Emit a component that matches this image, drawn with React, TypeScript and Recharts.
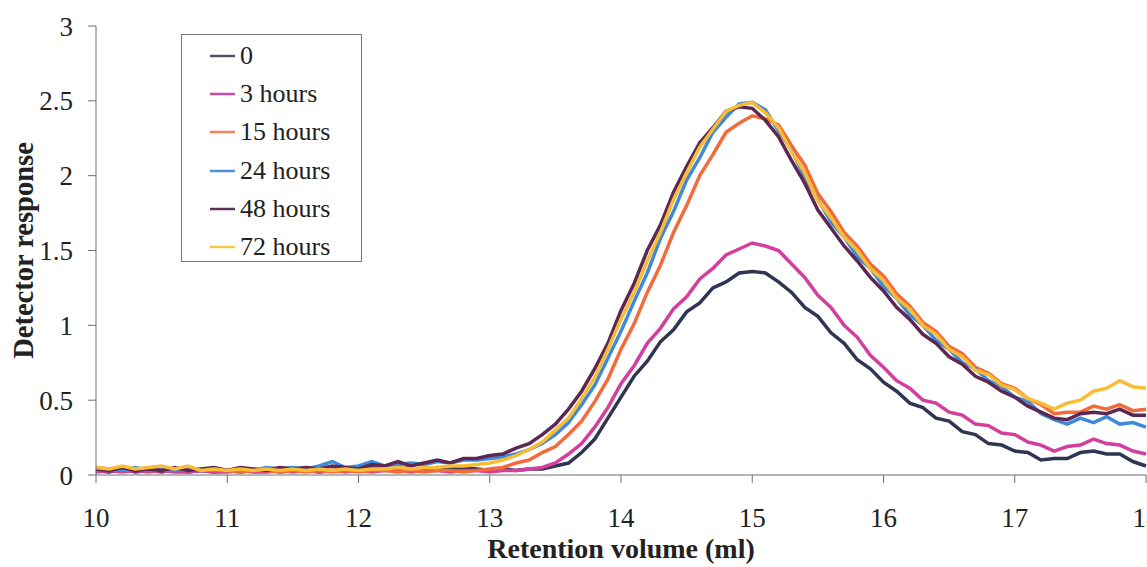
import { Legend, Line, LineChart, XAxis, YAxis } from "recharts";

// retention volume, ml
const retentionVolume = [
  10.0, 10.1, 10.2, 10.3, 10.4, 10.5, 10.6, 10.7, 10.8, 10.9,
  11.0, 11.1, 11.2, 11.3, 11.4, 11.5, 11.6, 11.7, 11.8, 11.9,
  12.0, 12.1, 12.2, 12.3, 12.4, 12.5, 12.6, 12.7, 12.8, 12.9,
  13.0, 13.1, 13.2, 13.3, 13.4, 13.5, 13.6, 13.7, 13.8, 13.9,
  14.0, 14.1, 14.2, 14.3, 14.4, 14.5, 14.6, 14.7, 14.8, 14.9,
  15.0, 15.1, 15.2, 15.3, 15.4, 15.5, 15.6, 15.7, 15.8, 15.9,
  16.0, 16.1, 16.2, 16.3, 16.4, 16.5, 16.6, 16.7, 16.8, 16.9,
  17.0, 17.1, 17.2, 17.3, 17.4, 17.5, 17.6, 17.7, 17.8, 17.9,
  18.0,
];

const h0 = [
  0.03, 0.02, 0.04, 0.02, 0.03, 0.02, 0.04, 0.02, 0.03, 0.02,
  0.03, 0.02, 0.03, 0.04, 0.02, 0.03, 0.04, 0.02, 0.03, 0.04,
  0.03, 0.05, 0.03, 0.04, 0.05, 0.03, 0.05, 0.04, 0.05, 0.04,
  0.03, 0.04, 0.03, 0.04, 0.04, 0.06, 0.08, 0.15, 0.24, 0.38,
  0.52, 0.66, 0.76, 0.89, 0.97, 1.09, 1.15, 1.25, 1.29, 1.35,
  1.36, 1.35, 1.29, 1.22, 1.12, 1.06, 0.95, 0.88, 0.77, 0.71,
  0.62, 0.56, 0.48, 0.45, 0.38, 0.36, 0.29, 0.27, 0.21, 0.2,
  0.16, 0.15, 0.1, 0.11, 0.11, 0.15, 0.16, 0.14, 0.14, 0.09,
  0.06,
];

const h3 = [
  0.02, 0.03, 0.02, 0.03, 0.02, 0.03, 0.02, 0.02, 0.03, 0.02,
  0.02, 0.03, 0.02, 0.02, 0.03, 0.02, 0.03, 0.02, 0.03, 0.02,
  0.03, 0.02, 0.03, 0.03, 0.02, 0.03, 0.03, 0.02, 0.03, 0.03,
  0.02, 0.03, 0.03, 0.04, 0.05, 0.08, 0.14, 0.21, 0.32, 0.45,
  0.61, 0.73, 0.88, 0.98, 1.11, 1.19, 1.31, 1.38, 1.47, 1.51,
  1.55, 1.53, 1.5, 1.41, 1.32, 1.2, 1.12, 1.0, 0.92, 0.8,
  0.72, 0.63, 0.58, 0.5, 0.48, 0.42, 0.4, 0.34, 0.33, 0.28,
  0.27, 0.22, 0.2, 0.16, 0.19, 0.2, 0.24, 0.21, 0.2, 0.16,
  0.14,
];

const h15 = [
  0.05, 0.04, 0.03, 0.04, 0.03, 0.03, 0.04, 0.03, 0.04, 0.03,
  0.03, 0.02, 0.03, 0.03, 0.02, 0.03, 0.02, 0.03, 0.02, 0.03,
  0.02, 0.03, 0.03, 0.02, 0.03, 0.02, 0.03, 0.03, 0.02, 0.03,
  0.04, 0.05, 0.08, 0.1, 0.15, 0.19, 0.27, 0.36, 0.49, 0.64,
  0.84, 1.01, 1.22, 1.4, 1.62, 1.8, 2.0, 2.14, 2.29, 2.35,
  2.4, 2.38, 2.34, 2.2, 2.07, 1.88, 1.76, 1.62, 1.53, 1.41,
  1.33, 1.21, 1.13, 1.02, 0.96, 0.86, 0.81, 0.72, 0.68, 0.61,
  0.58, 0.51, 0.47, 0.41, 0.42, 0.42, 0.46, 0.44, 0.47, 0.43,
  0.44,
];

const h24 = [
  0.03, 0.04, 0.03, 0.05, 0.03, 0.04, 0.03, 0.04, 0.03, 0.04,
  0.03, 0.04, 0.03, 0.05, 0.04, 0.05, 0.04, 0.06, 0.09, 0.05,
  0.06, 0.09, 0.06, 0.07, 0.08, 0.07, 0.09, 0.08, 0.1, 0.1,
  0.11, 0.12, 0.14, 0.17, 0.21, 0.27, 0.35, 0.47, 0.6, 0.78,
  0.96, 1.16, 1.35, 1.58, 1.76, 1.97, 2.12, 2.29, 2.39, 2.48,
  2.49, 2.44, 2.3, 2.17, 1.99, 1.84, 1.69, 1.59, 1.46, 1.38,
  1.26, 1.18, 1.07, 1.0, 0.9, 0.84, 0.75, 0.71, 0.63, 0.59,
  0.52, 0.49, 0.41, 0.37, 0.34, 0.38, 0.35, 0.39, 0.34, 0.35,
  0.32,
];

const h48 = [
  0.04, 0.03, 0.05, 0.03, 0.04, 0.03, 0.05, 0.03, 0.04, 0.05,
  0.03, 0.05, 0.04, 0.03, 0.05, 0.04, 0.05, 0.04, 0.06, 0.05,
  0.04, 0.07, 0.06, 0.09, 0.06, 0.08, 0.1, 0.08, 0.11, 0.11,
  0.13, 0.14, 0.18, 0.21, 0.27, 0.34, 0.44, 0.56, 0.71, 0.88,
  1.1, 1.28, 1.5, 1.67, 1.89, 2.06, 2.22, 2.32, 2.43, 2.46,
  2.45, 2.37, 2.26, 2.1, 1.95, 1.77, 1.65, 1.53, 1.43, 1.32,
  1.23, 1.12, 1.04, 0.94, 0.88, 0.79, 0.74, 0.66, 0.62, 0.56,
  0.52, 0.46, 0.42, 0.38, 0.37, 0.41, 0.42, 0.41, 0.44, 0.4,
  0.4,
];

const h72 = [
  0.05, 0.04, 0.06, 0.04, 0.05, 0.06, 0.04, 0.06, 0.03, 0.04,
  0.03, 0.04, 0.03, 0.04, 0.03, 0.04, 0.03, 0.04, 0.03, 0.04,
  0.03, 0.04, 0.04, 0.05, 0.04, 0.05, 0.05, 0.06, 0.06, 0.07,
  0.08, 0.1, 0.13, 0.17, 0.22, 0.3, 0.38, 0.51, 0.65, 0.84,
  1.04, 1.22, 1.43, 1.62, 1.84, 2.02, 2.19, 2.31, 2.43, 2.47,
  2.49, 2.42, 2.32, 2.16, 2.02, 1.83, 1.72, 1.59, 1.5, 1.38,
  1.3, 1.18, 1.11, 1.0, 0.94, 0.84, 0.79, 0.7, 0.67, 0.6,
  0.57, 0.51, 0.48, 0.44, 0.48, 0.5, 0.56, 0.58, 0.63, 0.59,
  0.58,
];

const xTicks = [10, 11, 12, 13, 14, 15, 16, 17, 18];
const yTicks = [0, 0.5, 1, 1.5, 2, 2.5, 3];

const series = [
  { key: "h0", name: "0", values: h0, color: "#2f3652", legendColor: "#4b5569" },
  { key: "h3", name: "3 hours", values: h3, color: "#d23f9c", legendColor: "#cf4ba8" },
  { key: "h15", name: "15 hours", values: h15, color: "#f46b3b", legendColor: "#ef8259" },
  { key: "h24", name: "24 hours", values: h24, color: "#3f8ad8", legendColor: "#4f90d6" },
  { key: "h48", name: "48 hours", values: h48, color: "#5c2753", legendColor: "#5c3156" },
  { key: "h72", name: "72 hours", values: h72, color: "#f8bd35", legendColor: "#f4c94a" },
];

const data = retentionVolume.map((x, i) => {
  const row: Record<string, number> = { x };
  series.forEach((s) => {
    row[s.key] = s.values[i];
  });
  return row;
});

const FONT = '"Liberation Serif", "Times New Roman", serif';

function ChartLegend() {
  return (
    <div
      style={{
        width: 181,
        height: 228,
        border: "1px solid #777",
        background: "#fff",
        boxSizing: "border-box",
        paddingTop: 2,
        fontFamily: FONT,
        fontSize: 26,
        lineHeight: 1,
        color: "#222",
      }}
    >
      {series.map((s) => (
        <div
          key={s.key}
          style={{ display: "flex", alignItems: "center", height: 38.2 }}
        >
          <svg width={58} height={10}>
            <line x1={28} x2={53} y1={5} y2={5} stroke={s.legendColor} strokeWidth={2.5} />
          </svg>
          <span>{s.name}</span>
        </div>
      ))}
    </div>
  );
}

export default function App() {
  return (
    <div
      style={{
        position: "absolute",
        left: 0,
        top: 0,
        width: 1147,
        height: 567,
        overflow: "hidden",
        background: "#fff",
      }}
    >
      <LineChart
        width={1180}
        height={567}
        data={data}
        margin={{ top: 26, right: 34, left: 0, bottom: 52 }}
      >
        <XAxis
          dataKey="x"
          type="number"
          domain={[10, 18]}
          ticks={xTicks}
          height={40}
          stroke="#6e6e6e"
          tickSize={8}
          tickMargin={25}
          tick={{ fill: "#222", fontSize: 27, fontFamily: FONT }}
          label={{
            value: "Retention volume (ml)",
            position: "bottom",
            offset: 23,
            fill: "#222",
            fontSize: 28,
            fontWeight: "bold",
            fontFamily: FONT,
          }}
        />
        <YAxis
          type="number"
          domain={[0, 3]}
          ticks={yTicks}
          width={96}
          stroke="#6e6e6e"
          tickSize={8}
          tickMargin={15}
          tick={{ fill: "#222", fontSize: 27, fontFamily: FONT }}
          label={{
            value: "Detector response",
            angle: -90,
            position: "center",
            dx: -25,
            fill: "#222",
            fontSize: 28.5,
            fontWeight: "bold",
            fontFamily: FONT,
          }}
        />
        <Legend
          layout="vertical"
          align="center"
          verticalAlign="middle"
          content={() => <ChartLegend />}
          wrapperStyle={{ position: "absolute", left: 181, top: 34, width: 181, height: 228 }}
        />
        {series.map((s) => (
          <Line
            key={s.key}
            type="linear"
            dataKey={s.key}
            name={s.name}
            stroke={s.color}
            strokeWidth={3.5}
            dot={false}
            isAnimationActive={false}
          />
        ))}
      </LineChart>
    </div>
  );
}
